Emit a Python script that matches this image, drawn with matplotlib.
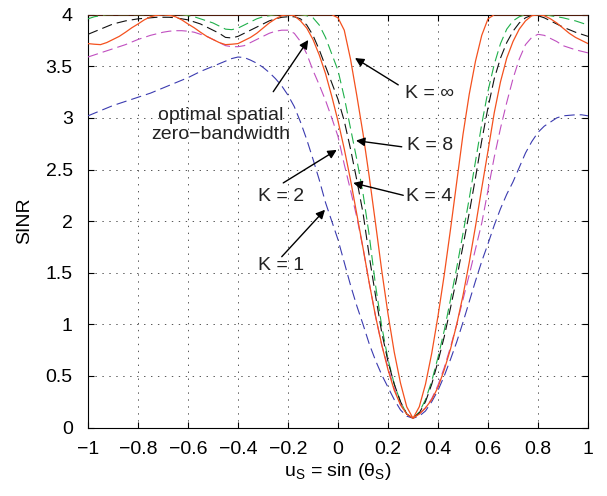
import matplotlib
matplotlib.use('Agg')
import matplotlib.pyplot as plt

plt.rcParams['font.family'] = ['Liberation Sans', 'DejaVu Sans']
plt.rcParams['mathtext.fontset'] = 'custom'
plt.rcParams['mathtext.rm'] = 'Liberation Sans'
plt.rcParams['mathtext.it'] = 'Liberation Sans:italic'
plt.rcParams['lines.scale_dashes'] = False

# ---------------- data ----------------
u = [-1.0, -0.975, -0.95, -0.925, -0.9, -0.875, -0.85, -0.825, -0.8, -0.775,
     -0.75, -0.725, -0.7, -0.675, -0.65, -0.625, -0.6, -0.575, -0.55, -0.525,
     -0.5, -0.475, -0.45, -0.425, -0.4, -0.375, -0.35, -0.325, -0.3, -0.275,
     -0.25, -0.225, -0.2, -0.175, -0.15, -0.125, -0.1, -0.075, -0.05, -0.025,
     0.0, 0.025, 0.05, 0.075, 0.1, 0.125, 0.15, 0.175, 0.2, 0.225,
     0.25, 0.275, 0.3, 0.325, 0.35, 0.375, 0.4, 0.425, 0.45, 0.475,
     0.5, 0.525, 0.55, 0.575, 0.6, 0.625, 0.65, 0.675, 0.7, 0.725,
     0.75, 0.775, 0.8, 0.825, 0.85, 0.875, 0.9, 0.925, 0.95, 0.975, 1.0]

sinr_k1 = [3.02, 3.045, 3.07, 3.095, 3.12, 3.14, 3.16, 3.18, 3.20, 3.22,
           3.24, 3.265, 3.29, 3.315, 3.34, 3.365, 3.39, 3.42, 3.45, 3.475,
           3.50, 3.525, 3.55, 3.575, 3.59, 3.585, 3.56, 3.53, 3.49, 3.44,
           3.38, 3.31, 3.22, 3.11, 2.96, 2.79, 2.60, 2.40, 2.18, 2.00,
           1.82, 1.60, 1.38, 1.18, 1.00, 0.81, 0.65, 0.51, 0.39, 0.27,
           0.17, 0.11, 0.09, 0.11, 0.16, 0.25, 0.36, 0.50, 0.66, 0.83,
           1.02, 1.22, 1.42, 1.61, 1.78, 1.96, 2.12, 2.26, 2.38, 2.52,
           2.66, 2.77, 2.86, 2.92, 2.96, 3.00, 3.02, 3.025, 3.03, 3.03, 3.02]

sinr_k2 = [3.59, 3.61, 3.63, 3.65, 3.67, 3.69, 3.71, 3.735, 3.76, 3.78,
           3.80, 3.815, 3.83, 3.84, 3.845, 3.845, 3.84, 3.83, 3.81, 3.79,
           3.76, 3.73, 3.70, 3.69, 3.69, 3.70, 3.73, 3.76, 3.79, 3.82,
           3.84, 3.85, 3.85, 3.82, 3.74, 3.62, 3.46, 3.32, 3.17, 3.00,
           2.82, 2.55, 2.30, 2.04, 1.74, 1.40, 1.08, 0.80, 0.58, 0.38,
           0.22, 0.13, 0.09, 0.13, 0.19, 0.28, 0.41, 0.58, 0.78, 1.00,
           1.24, 1.48, 1.73, 1.98, 2.30, 2.62, 2.90, 3.15, 3.38, 3.57,
           3.71, 3.78, 3.81, 3.80, 3.77, 3.74, 3.70, 3.68, 3.66, 3.645, 3.63]

sinr_k4 = [3.96, 3.98, 3.99, 4.0, 4.0, 4.0, 4.0, 4.0, 4.0, 4.0,
           4.0, 4.0, 4.0, 4.0, 4.0, 4.0, 3.99, 3.98, 3.96, 3.94,
           3.92, 3.89, 3.86, 3.855, 3.87, 3.90, 3.93, 3.96, 3.98, 3.99,
           4.0, 4.0, 4.0, 4.0, 4.0, 3.99, 3.97, 3.90, 3.78, 3.62,
           3.46, 3.20, 2.90, 2.60, 2.27, 1.86, 1.38, 0.98, 0.66, 0.42,
           0.25, 0.13, 0.09, 0.15, 0.27, 0.45, 0.68, 0.94, 1.24, 1.55,
           1.88, 2.22, 2.58, 2.94, 3.26, 3.52, 3.72, 3.86, 3.94, 3.98,
           4.0, 4.0, 4.0, 4.0, 3.99, 3.98, 3.97, 3.955, 3.94, 3.92, 3.90]

sinr_k8 = [3.81, 3.835, 3.86, 3.885, 3.91, 3.925, 3.94, 3.95, 3.96, 3.965,
           3.97, 3.975, 3.975, 3.975, 3.97, 3.96, 3.95, 3.93, 3.91, 3.88,
           3.85, 3.82, 3.78, 3.775, 3.79, 3.82, 3.85, 3.88, 3.91, 3.94,
           3.96, 3.975, 3.98, 3.98, 3.96, 3.90, 3.80, 3.66, 3.50, 3.34,
           3.18, 2.97, 2.70, 2.40, 2.08, 1.66, 1.28, 0.92, 0.64, 0.42,
           0.25, 0.13, 0.09, 0.14, 0.25, 0.42, 0.64, 0.88, 1.16, 1.45,
           1.76, 2.08, 2.42, 2.78, 3.10, 3.38, 3.58, 3.73, 3.84, 3.92,
           3.97, 3.995, 3.99, 3.97, 3.94, 3.91, 3.88, 3.855, 3.83, 3.81, 3.79]

sinr_kinf = [4.0, 4.0, 4.0, 4.0, 4.0, 4.0, 4.0, 4.0, 4.0, 4.0,
             4.0, 4.0, 4.0, 4.0, 4.0, 4.0, 4.0, 4.0, 4.0, 4.0,
             4.0, 4.0, 4.0, 4.0, 4.0, 4.0, 4.0, 4.0, 4.0, 4.0,
             4.0, 4.0, 4.0, 4.0, 4.0, 4.0, 4.0, 4.0, 4.0, 4.0,
             3.97, 3.85, 3.57, 3.22, 2.85, 2.43, 1.98, 1.52, 1.10, 0.73,
             0.43, 0.20, 0.09, 0.20, 0.42, 0.72, 1.08, 1.48, 1.92, 2.38,
             2.84, 3.23, 3.55, 3.80, 3.96, 4.0, 4.0, 4.0, 4.0, 4.0,
             4.0, 4.0, 4.0, 4.0, 4.0, 4.0, 4.0, 4.0, 4.0, 4.0, 4.0]

sinr_opt = [3.72, 3.714, 3.71, 3.73, 3.76, 3.79, 3.83, 3.873, 3.91, 3.95,
            3.98, 3.994, 4.0, 3.994, 3.98, 3.95, 3.91, 3.873, 3.83, 3.79,
            3.76, 3.73, 3.71, 3.714, 3.72, 3.75, 3.78, 3.82, 3.87, 3.92,
            3.96, 3.99, 4.0, 3.99, 3.94, 3.87, 3.76, 3.61, 3.43, 3.21,
            2.97, 2.70, 2.40, 2.07, 1.74, 1.40, 1.08, 0.80, 0.56, 0.36,
            0.22, 0.13, 0.09, 0.13, 0.19, 0.27, 0.39, 0.56, 0.76, 1.00,
            1.28, 1.60, 1.95, 2.32, 2.68, 3.05, 3.35, 3.58, 3.74, 3.86,
            3.94, 3.99, 4.0, 3.99, 3.96, 3.92, 3.87, 3.82, 3.78, 3.75, 3.72]

xtick_vals = [-1, -0.8, -0.6, -0.4, -0.2, 0, 0.2, 0.4, 0.6, 0.8, 1]
xtick_labels = ['\u22121', '\u22120.8', '\u22120.6', '\u22120.4', '\u22120.2', '0',
                '0.2', '0.4', '0.6', '0.8', '1']
ytick_vals = [0, 0.5, 1, 1.5, 2, 2.5, 3, 3.5, 4]
ytick_labels = ['0', '0.5', '1', '1.5', '2', '2.5', '3', '3.5', '4']

# ---------------- figure ----------------
W, H = 607, 496
fig = plt.figure(figsize=(W / 100, H / 100), dpi=100)
ax = fig.add_axes([88 / W, 1 - 427.5 / H, 500 / W, 412.8 / H])

dash = (0, (7.5, 3.6))
red = '#f4511e'
ax.plot(u, sinr_k1, color='#3b3bb0', lw=0.8, linestyle=dash, zorder=3)
ax.plot(u, sinr_k2, color='#c04fc0', lw=0.8, linestyle=dash, zorder=3)
ax.plot(u, sinr_k4, color='#1fb04a', lw=0.8, linestyle=dash, zorder=3)
ax.plot(u, sinr_k8, color='#111111', lw=0.8, linestyle=dash, zorder=3)
ax.plot(u, sinr_kinf, color=red, lw=0.9, zorder=3)
ax.plot(u, sinr_opt, color=red, lw=0.9, zorder=3)

ax.set_xlim(-1, 1)
ax.set_ylim(0, 4)
ax.set_xticks(xtick_vals)
ax.set_xticklabels(xtick_labels)
ax.set_yticks(ytick_vals)
ax.set_yticklabels(ytick_labels)
ax.tick_params(direction='in', top=True, right=True, labelsize=14, length=4, width=0.8)
ax.tick_params(axis='x', pad=10)
ax.tick_params(axis='y', pad=11)
ax.grid(True, color='#555555', linestyle=(0, (1, 4)), linewidth=0.7)
for sp in ax.spines.values():
    sp.set_linewidth(0.8)

ax.set_xlabel('u$_{\\mathrm{S}}$ = sin (\u03b8$_{\\mathrm{S}}$)', fontsize=14)
ax.set_ylabel('SINR', fontsize=14)
ax.xaxis.set_label_coords(0.5, -0.082)
ax.yaxis.set_label_coords(-0.11, 0.5)

arrow = dict(arrowstyle='-|>', color='k', lw=1.0, mutation_scale=13,
             shrinkA=0, shrinkB=0)

def note(text, tx, ty, tail, tip, ha='left'):
    ax.text(tx, ty, text, fontsize=14, ha=ha, va='center', color='#222222')
    ax.annotate('', xy=tip, xytext=tail, arrowprops=arrow)

ax.text(-0.469, 2.93, 'optimal spatial\nzero\u2212bandwidth', fontsize=14,
        ha='center', va='center', color='#222222', linespacing=1.2)
ax.annotate('', xy=(-0.119, 3.755), xytext=(-0.259, 3.254), arrowprops=arrow)

note('K = \u221e', 0.268, 3.24, (0.241, 3.32), (0.068, 3.58))
note('K = 8', 0.275, 2.73, (0.255, 2.72), (0.072, 2.78))
note('K = 4', 0.272, 2.24, (0.261, 2.25), (0.061, 2.37))
note('K = 2', -0.319, 2.24, (-0.219, 2.37), (-0.005, 2.69))
note('K = 1', -0.319, 1.57, (-0.225, 1.655), (-0.052, 2.11))

fig.savefig('out.png', dpi=100)
